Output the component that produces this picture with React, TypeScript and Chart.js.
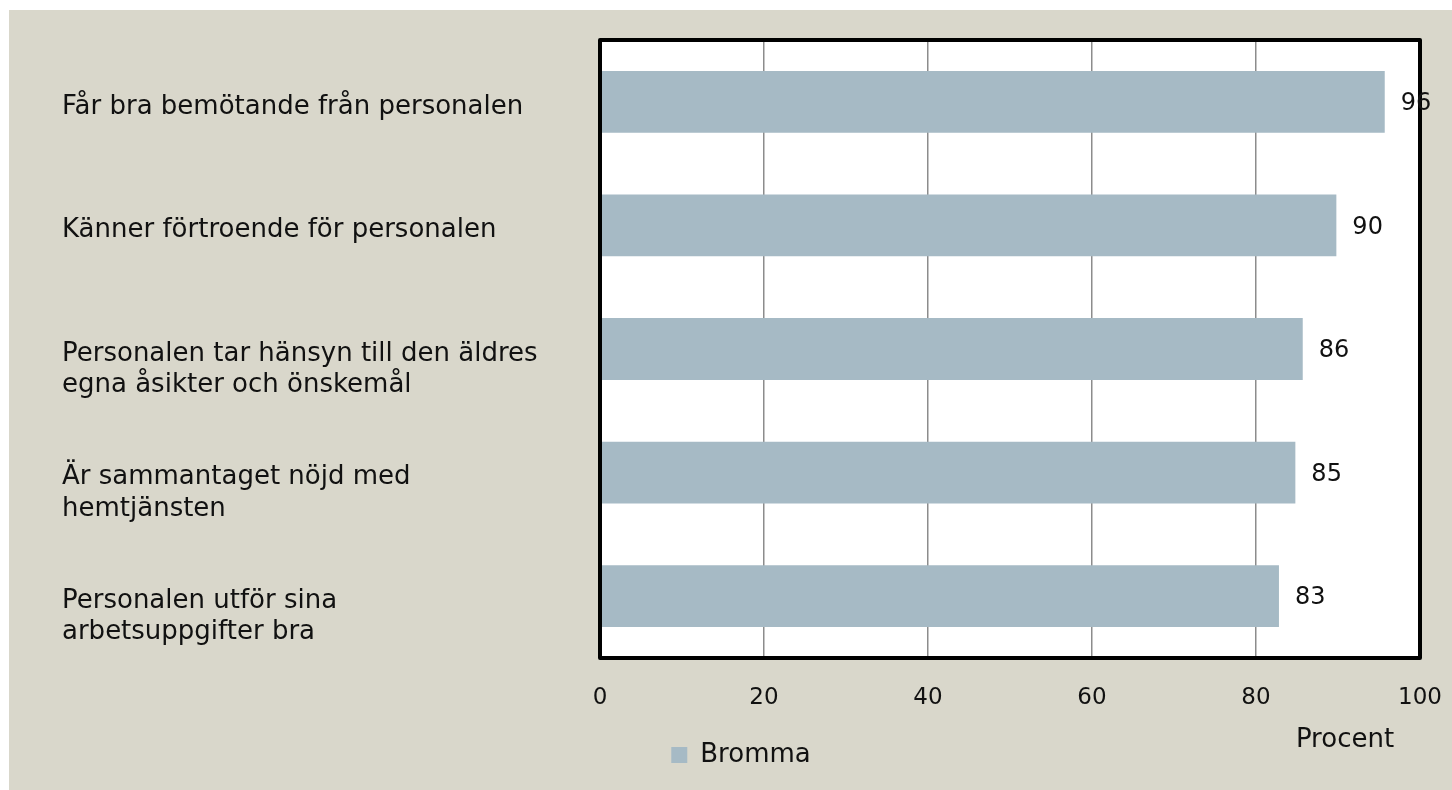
import React, { useEffect, useRef } from "react";
import { Chart, registerables } from "chart.js";

Chart.register(...registerables);

const categories: (string | string[])[] = [
  "Får bra bemötande från personalen",
  "Känner förtroende för personalen",
  ["", "Personalen tar hänsyn till den äldres", "egna åsikter och önskemål"],
  ["", "Är sammantaget nöjd med", "hemtjänsten"],
  ["", "Personalen utför sina", "arbetsuppgifter bra"],
];
const values = [95.7, 89.8, 85.7, 84.8, 82.8];
const valueLabels = ["96", "90", "86", "85", "83"];
const seriesName = "Bromma";
const xMin = 0;
const xMax = 100;
const xStep = 20;
const axisTitle = "Procent";

const FONT = "'DejaVu Sans', sans-serif";

export default function App() {
  const ref = useRef<HTMLCanvasElement | null>(null);

  useEffect(() => {
    if (!ref.current) return;
    const framePlugin = {
      id: "frame",
      beforeDraw(chart: any) {
        const { ctx, chartArea } = chart;
        ctx.save();
        ctx.fillStyle = "#ffffff";
        ctx.fillRect(chartArea.left, chartArea.top, chartArea.right - chartArea.left, chartArea.bottom - chartArea.top);
        ctx.restore();
      },
      afterDatasetsDraw(chart: any) {
        const { ctx, chartArea } = chart;
        ctx.save();
        ctx.strokeStyle = "#000";
        ctx.lineWidth = 4;
        ctx.lineJoin = "round";
        ctx.strokeRect(chartArea.left, chartArea.top, chartArea.right - chartArea.left, chartArea.bottom - chartArea.top);
        const meta = chart.getDatasetMeta(0);
        ctx.fillStyle = "#111";
        ctx.font = `24px ${FONT}`;
        ctx.textAlign = "left";
        ctx.textBaseline = "middle";
        meta.data.forEach((bar: any, i: number) => {
          ctx.fillText(valueLabels[i], bar.x + 16, bar.y + 2);
        });
        ctx.font = `26px ${FONT}`;
        ctx.textAlign = "center";
        ctx.fillText(axisTitle, chartArea.right - 75, chartArea.bottom + 82);
        ctx.restore();
      },
    };

    const chart = new Chart(ref.current, {
      type: "bar",
      data: {
        labels: categories,
        datasets: [
          {
            label: seriesName,
            data: values,
            backgroundColor: "#a6bac5",
            borderWidth: 0,
            barPercentage: 1,
            categoryPercentage: 0.5,
          },
        ],
      },
      options: {
        indexAxis: "y",
        animation: false,
        responsive: true,
        maintainAspectRatio: false,
        layout: { padding: { left: 53, right: 32, top: 30, bottom: 12 } },
        plugins: {
          legend: {
            position: "bottom",
            labels: {
              boxWidth: 16,
              boxHeight: 16,
              color: "#111",
              font: { family: FONT, size: 26 },
              padding: 10,
            },
          },
          tooltip: { enabled: false },
        },
        scales: {
          x: {
            min: xMin,
            max: xMax,
            ticks: {
              stepSize: xStep,
              color: "#111",
              font: { family: FONT, size: 23 },
              padding: 26,
            },
            grid: { color: "#8c8c8c", lineWidth: 1.5, drawTicks: false },
            border: { display: false },
            afterFit: (s: any) => {
              s.height = 74;
              s.paddingLeft = 0;
              s.paddingRight = 0;
              s.paddingTop = 0;
              s.paddingBottom = 0;
            },
          },
          y: {
            ticks: {
              color: "#111",
              crossAlign: "far",
              autoSkip: false,
              labelOffset: 5,
              font: { family: FONT, size: 26, lineHeight: 1.2 },
            },
            grid: { display: false, drawTicks: false },
            border: { display: false },
            afterFit: (s: any) => {
              s.width = 538;
              s.paddingLeft = 0;
              s.paddingRight = 0;
              s.paddingTop = 0;
              s.paddingBottom = 0;
            },
          },
        },
      },
      plugins: [framePlugin],
    } as any);
    return () => chart.destroy();
  }, []);

  return (
    <div
      style={{
        position: "fixed",
        left: 9,
        top: 10,
        right: 0,
        bottom: 0,
        background: "#d9d7cb",
      }}
    >
      <canvas ref={ref} />
    </div>
  );
}
